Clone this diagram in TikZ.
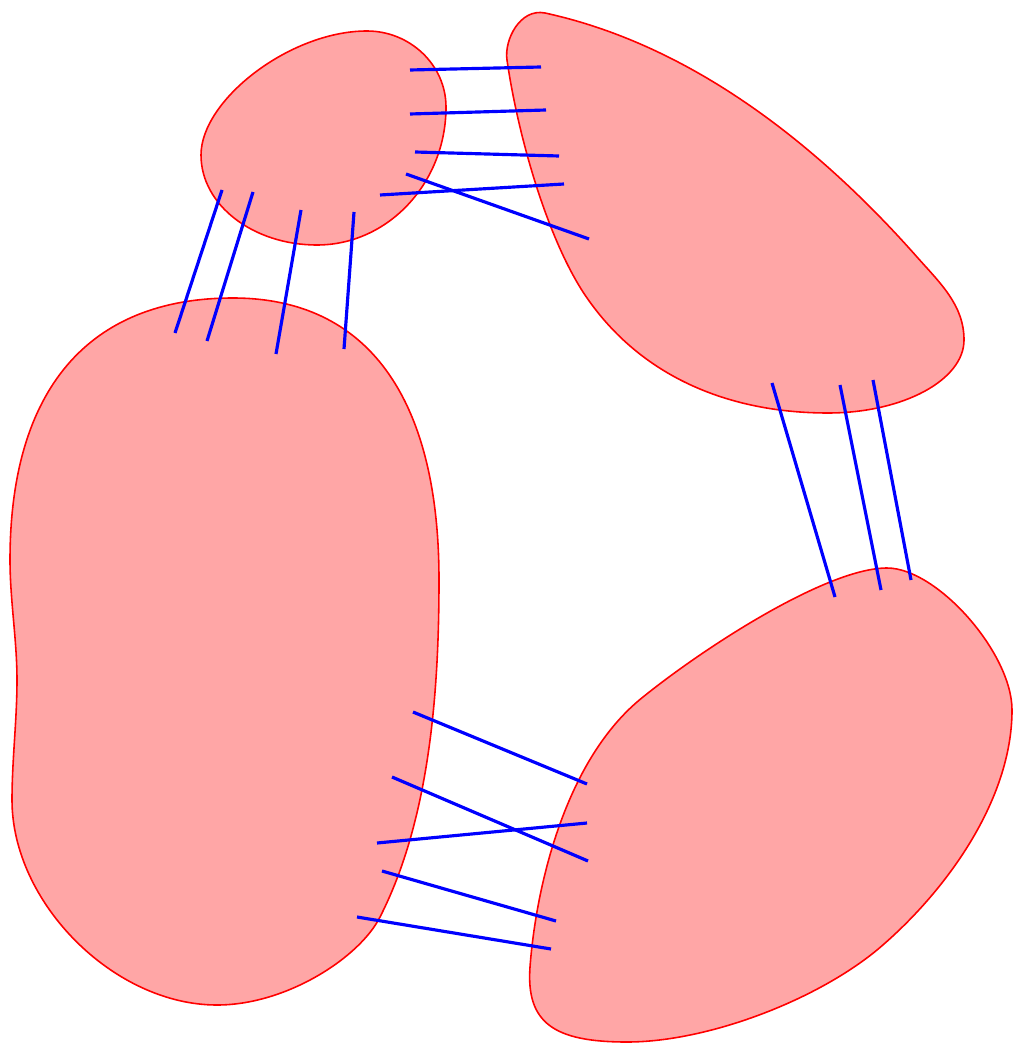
\documentclass[tikz,border=0pt]{standalone}
\usepackage{xcolor}

\begin{document}
\begin{tikzpicture}[x=0.01cm, y=-0.01cm,
    blob/.style={draw=red, fill=red!35, line width=0.45pt},
    link/.style={draw=blue, line width=0.9pt}]
    \useasboundingbox (0,0) rectangle (1015,1043);
    % the four regions
    \draw[blob] (201,155) .. controls (201,100) and (290,31) .. (367,31)
        .. controls (410,31) and (446,65) .. (446,107)
        .. controls (446,183) and (388,245) .. (317,245)
        .. controls (253,245) and (201,205) .. (201,155) -- cycle;
    \draw[blob] (507,60) .. controls (504,40) and (520,8) .. (545,13)
        .. controls (692,45) and (818,145) .. (917,257)
        .. controls (940,283) and (964,305) .. (964,340)
        .. controls (964,380) and (903,413) .. (828,413)
        .. controls (728,413) and (638,376) .. (583,292)
        .. controls (545,233) and (517,130) .. (507,60) -- cycle;
    \draw[blob] (233,298) .. controls (367,298) and (439,397) .. (439,580)
        .. controls (439,690) and (430,819) .. (380,917)
        .. controls (360,957) and (287,1005) .. (217,1005)
        .. controls (114,1005) and (12,903) .. (12,800)
        .. controls (12,760) and (17,720) .. (17,680)
        .. controls (17,640) and (10,600) .. (10,560)
        .. controls (10,390) and (88,298) .. (233,298) -- cycle;
    \draw[blob] (887,568) .. controls (937,568) and (1012,653) .. (1012,710)
        .. controls (1012,800) and (946,892) .. (877,950)
        .. controls (815,1001) and (707,1042) .. (627,1042)
        .. controls (554,1042) and (526,1023) .. (530,967)
        .. controls (536,887) and (565,759) .. (643,697)
        .. controls (705,647) and (827,568) .. (887,568) -- cycle;
    % links
    \draw[link] (410,70) -- (541,67);
    \draw[link] (410,114) -- (546,110);
    \draw[link] (415,152) -- (559,156);
    \draw[link] (380,195) -- (564,184);
    \draw[link] (406,174) -- (589,239);
    \draw[link] (222,190) -- (175,333);
    \draw[link] (253,192) -- (207,341);
    \draw[link] (301,210) -- (276,354);
    \draw[link] (354,212) -- (344,349);
    \draw[link] (772,383) -- (835,597);
    \draw[link] (840,385) -- (881,590);
    \draw[link] (873,380) -- (911,580);
    \draw[link] (413,712) -- (587,784);
    \draw[link] (392,777) -- (588,861);
    \draw[link] (377,843) -- (587,823);
    \draw[link] (382,871) -- (556,921);
    \draw[link] (357,917) -- (551,949);
\end{tikzpicture}
\end{document}
